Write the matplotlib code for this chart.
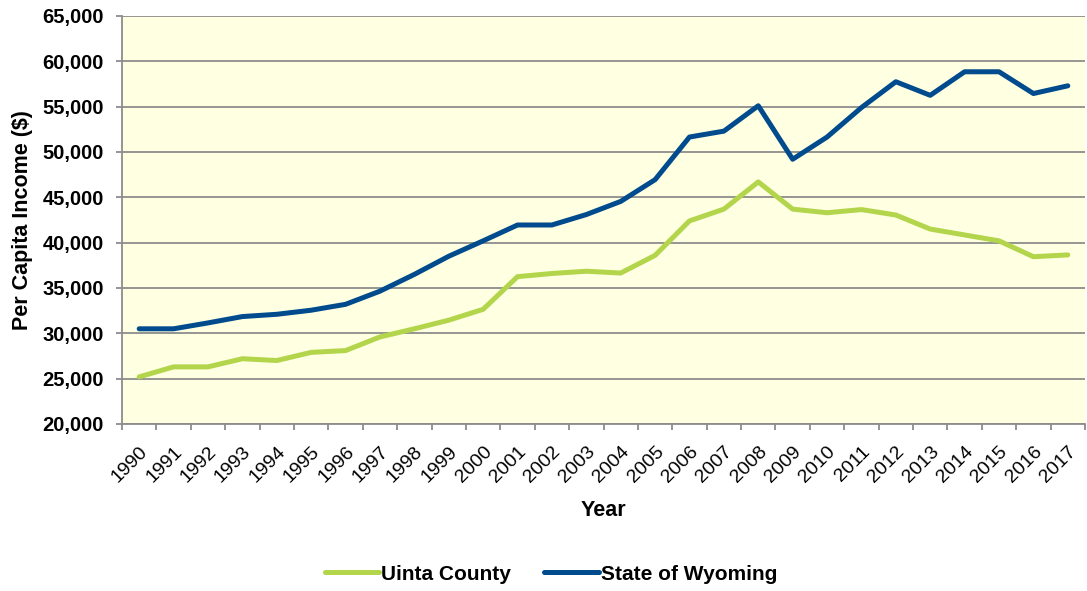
import numpy as np
import matplotlib
matplotlib.use("Agg")
from matplotlib import pyplot as plt
from matplotlib.ticker import FuncFormatter, MultipleLocator

YEARS = list(range(1990, 2018))
UINTA = [25200, 26300, 26300, 27200, 27000, 27900, 28100, 29600, 30500, 31450, 32650,
         36250, 36600, 36850, 36650, 38600, 42400, 43700, 46700, 43700, 43300, 43650,
         43050, 41500, 40850, 40200, 38450, 38650]
WYOMING = [30500, 30500, 31150, 31850, 32100, 32550, 33200, 34650, 36500, 38500, 40200,
           41950, 41950, 43100, 44550, 46950, 51650, 52300, 55100, 49200, 51650, 54900,
           57750, 56250, 58850, 58850, 56450, 57300]

GREEN = "#B3D54C"
BLUE = "#004B8D"
GRID = "#8C8C8C"

plt.rcParams["font.family"] = ["Liberation Sans", "DejaVu Sans"]

fig = plt.figure(figsize=(10.87, 5.91), dpi=100)
ax = fig.add_axes([122 / 1087, 167 / 591, 963 / 1087, 408 / 591])
ax.set_facecolor("#FFFFE1")

x = np.arange(len(YEARS))
ax.plot(x, UINTA, color=GREEN, lw=3.6, label="Uinta County", solid_capstyle="round")
ax.plot(x, WYOMING, color=BLUE, lw=3.6, label="State of Wyoming", solid_capstyle="round")

ax.set_xlim(-0.5, len(YEARS) - 0.5)
ax.set_ylim(20000, 65000)
ax.yaxis.set_major_locator(MultipleLocator(5000))
ax.yaxis.set_major_formatter(FuncFormatter(lambda v, p: f"{int(v):,}"))
ax.grid(axis="y", color=GRID, lw=1.3)
ax.set_axisbelow(True)

ax.set_xticks(x)
ax.set_xticklabels([str(y) for y in YEARS], rotation=45, ha="right",
                   rotation_mode="anchor", fontsize=14)
ax.set_xticks(np.arange(-0.5, len(YEARS)), minor=True)
ax.tick_params(axis="x", which="major", length=0, pad=14)
ax.tick_params(axis="x", which="minor", length=4, width=1.3, color=GRID)
ax.tick_params(axis="y", length=4, width=1.3, color=GRID, pad=9, labelsize=14.5)
for lbl in ax.get_yticklabels():
    lbl.set_fontweight("bold")

for side in ["top", "right"]:
    ax.spines[side].set_visible(False)
for side in ["left", "bottom"]:
    ax.spines[side].set_color(GRID)
    ax.spines[side].set_linewidth(1.3)

ax.set_xlabel("Year", fontsize=15.5, fontweight="bold", labelpad=10)
ax.set_ylabel("Per Capita Income ($)", fontsize=15.5, fontweight="bold", labelpad=7)

fig.legend(loc="center", bbox_to_anchor=(551 / 1087, 17 / 591), ncol=2, frameon=False,
           prop={"size": 15, "weight": "bold"}, handlelength=2.6, handletextpad=0.1,
           columnspacing=1.6)

fig.savefig("out.png", dpi=100)
